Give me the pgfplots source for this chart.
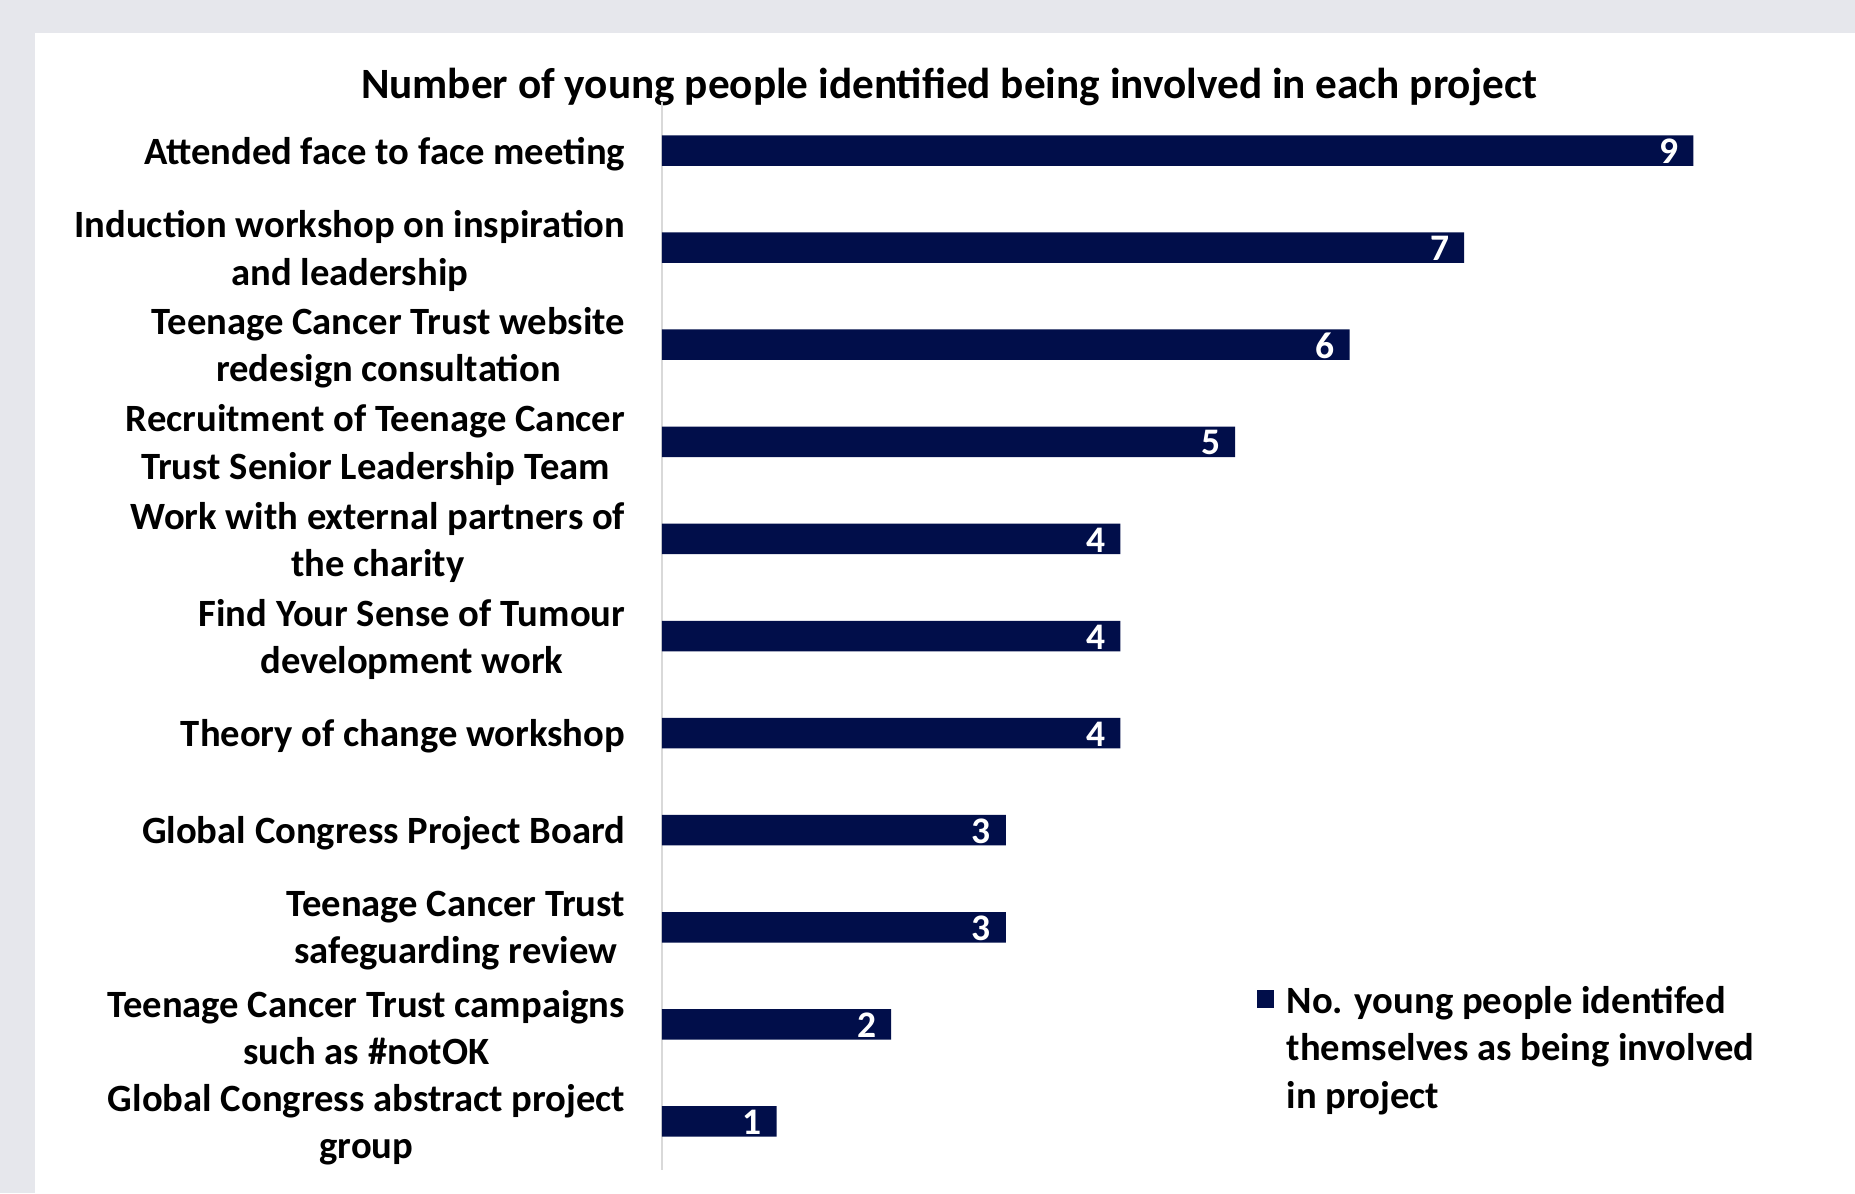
\documentclass[border=0pt]{standalone}
\usepackage{fontspec}
\setmainfont{Carlito}
\usepackage{pgfplots}
\pgfplotsset{compat=1.18}
\definecolor{navy}{RGB}{1,14,74}
\definecolor{bggray}{RGB}{230,231,236}
\definecolor{axgray}{RGB}{217,217,217}
\begin{document}
\begin{tikzpicture}
\fill[bggray] (0pt,0pt) rectangle (742pt,477.2pt);
\fill[white] (14pt,0pt) rectangle (742pt,464pt);
\node[font=\bfseries\fontsize{17.3}{20}\selectfont] at (379.6pt,442.6pt) {Number of young people identified being involved in each project};
\begin{axis}[
  at={(264.8pt,9.2pt)}, anchor=south west,
  width=458.4pt, height=427.2pt, scale only axis,
  xbar, bar width=12.2pt,
  xmin=0, xmax=10, ymin=-0.5, ymax=10.5, y dir=reverse,
  axis x line=none, axis y line=left,
  y axis line style={draw=axgray, line width=0.6pt, -},
  ytick={0,...,10}, major tick length=0pt,
  yticklabels={
    {Attended face to face meeting},
    {Induction workshop on inspiration\\and leadership},
    {Teenage Cancer Trust website\\redesign consultation},
    {Recruitment of Teenage Cancer\\Trust Senior Leadership Team},
    {Work with external partners of\\the charity},
    {Find Your Sense of Tumour\\development work},
    {Theory of change workshop},
    {Global Congress Project Board},
    {Teenage Cancer Trust\\safeguarding review},
    {Teenage Cancer Trust campaigns\\such as \#notOK},
    {Global Congress abstract project\\group}},
  yticklabel style={align=center, font=\bfseries\fontsize{15.45}{18.9}\selectfont, text=black, xshift=-11.2pt, yshift=-1.3pt},
  /pgf/number format/assume math mode=true,
  nodes near coords,
  nodes near coords style={anchor=east, text=white, font=\bfseries\fontsize{15}{17}\selectfont, xshift=-2.4pt, yshift=-0.4pt},
  legend style={at={(axis cs:5.12,8.44)}, anchor=north west, draw=none, fill=none,
    font=\bfseries\fontsize{15.45}{18.9}\selectfont},
  legend cell align=left,
  legend image code/.code={\fill[navy] (0pt,-3.5pt) rectangle (7pt,3.5pt);},
]
\addplot[fill=navy, draw=none] coordinates {
  (9,0) (7,1) (6,2) (5,3) (4,4) (4,5) (4,6) (3,7) (3,8) (2,9) (1,10)};
\addlegendentry{\hspace*{3pt}\begin{tabular}[t]{@{}l@{}}No. young people identifed\\themselves as being involved\\in project\end{tabular}}
\end{axis}
\end{tikzpicture}
\end{document}
